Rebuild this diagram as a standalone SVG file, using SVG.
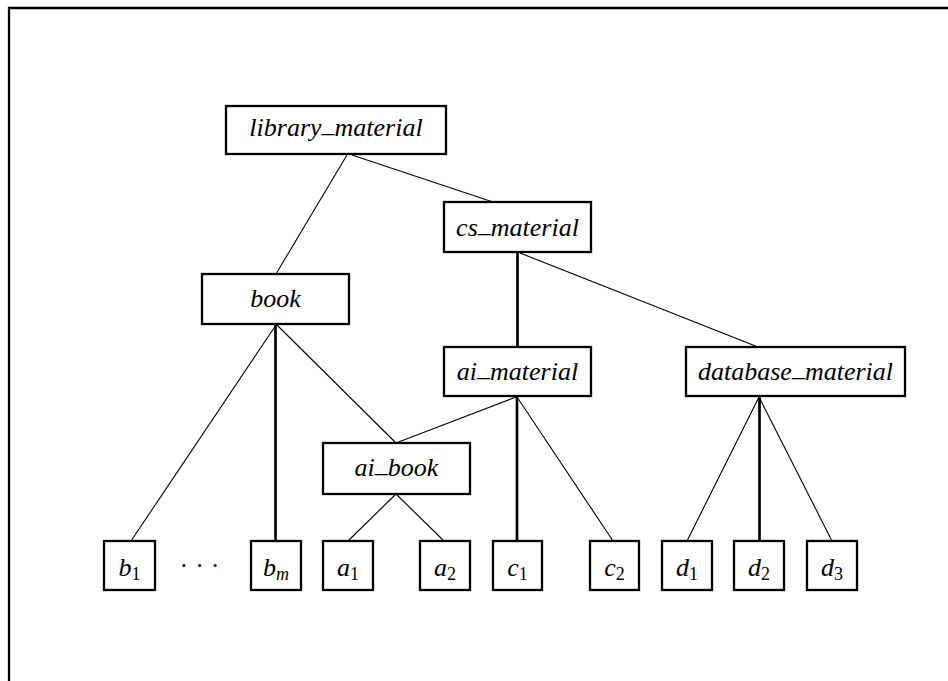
<svg xmlns="http://www.w3.org/2000/svg" width="948" height="681" viewBox="0 0 948 681">
<style>
.box{fill:#fff;stroke:#000;stroke-width:2.3}
text{font-family:'Liberation Serif','Times New Roman','DejaVu Serif',serif}
.lbl{font-style:italic;font-size:26px;text-anchor:middle;fill:#000}
.sub{font-style:normal;font-size:18px}
.subi{font-style:italic;font-size:18px}
.thin{stroke:#000;stroke-width:1.1;fill:none}
.thick{stroke:#000;stroke-width:2.7;fill:none}
.frame{stroke:#000;stroke-width:2.3;fill:none}
</style>
<rect width="948" height="681" fill="#fff"/>
<path class="frame" d="M9,681 V8 H948"/>
<g id="connectors">
<line class="thin" x1="347" y1="155" x2="276" y2="274"/>
<line class="thin" x1="352" y1="155" x2="493" y2="202"/>
<line class="thick" x1="517.5" y1="252" x2="517.5" y2="347"/>
<line class="thin" x1="520" y1="253" x2="758" y2="347"/>
<line class="thin" x1="276" y1="325" x2="131" y2="541"/>
<line class="thick" x1="275.5" y1="325" x2="275.5" y2="541"/>
<line class="thin" x1="277" y1="325" x2="396" y2="443"/>
<line class="thin" x1="516" y1="397" x2="396" y2="443"/>
<line class="thin" x1="396" y1="494" x2="348" y2="541"/>
<line class="thin" x1="396" y1="494" x2="444" y2="541"/>
<line class="thick" x1="517" y1="397" x2="517" y2="541"/>
<line class="thin" x1="517" y1="397" x2="613" y2="541"/>
<line class="thin" x1="759" y1="397" x2="687" y2="541"/>
<line class="thick" x1="759.5" y1="397" x2="759.5" y2="541"/>
<line class="thin" x1="759" y1="397" x2="832" y2="541"/>
</g>
<g font-family="Liberation Serif, Times New Roman, DejaVu Serif, serif">
<g id="library_material"><rect class="box" x="226" y="106" width="220" height="48"/><text class="lbl" x="336" y="136">library<tspan dy="-4">_</tspan><tspan dy="4">material</tspan></text></g>
<g id="cs_material"><rect class="box" x="444" y="202" width="147" height="50"/><text class="lbl" x="517.5" y="236">cs<tspan dy="-4">_</tspan><tspan dy="4">material</tspan></text></g>
<g id="book"><rect class="box" x="202" y="274" width="147" height="50"/><text class="lbl" x="275.5" y="307">book</text></g>
<g id="ai_material"><rect class="box" x="444" y="347" width="147" height="49"/><text class="lbl" x="517.5" y="380">ai<tspan dy="-4">_</tspan><tspan dy="4">material</tspan></text></g>
<g id="database_material"><rect class="box" x="686" y="347" width="219" height="49"/><text class="lbl" x="795.5" y="380">database<tspan dy="-4">_</tspan><tspan dy="4">material</tspan></text></g>
<g id="ai_book"><rect class="box" x="323" y="443" width="147" height="51"/><text class="lbl" x="396.5" y="476">ai<tspan dy="-4">_</tspan><tspan dy="4">book</tspan></text></g>
<g id="b1"><rect class="box" x="104" y="541" width="51" height="49"/><text class="lbl" x="129.5" y="576">b<tspan class="sub" dy="4">1</tspan></text></g>
<g id="dots"><text class="lbl" x="203" y="574" style="font-style:normal;letter-spacing:7px">···</text></g>
<g id="bm"><rect class="box" x="251" y="541" width="50" height="49"/><text class="lbl" x="276" y="576">b<tspan class="subi" dy="4">m</tspan></text></g>
<g id="a1"><rect class="box" x="323" y="541" width="50" height="49"/><text class="lbl" x="348" y="576">a<tspan class="sub" dy="4">1</tspan></text></g>
<g id="a2"><rect class="box" x="420" y="541" width="50" height="49"/><text class="lbl" x="445" y="576">a<tspan class="sub" dy="4">2</tspan></text></g>
<g id="c1"><rect class="box" x="493" y="541" width="49" height="49"/><text class="lbl" x="517.5" y="576">c<tspan class="sub" dy="4">1</tspan></text></g>
<g id="c2"><rect class="box" x="590" y="541" width="49" height="49"/><text class="lbl" x="614.5" y="576">c<tspan class="sub" dy="4">2</tspan></text></g>
<g id="d1"><rect class="box" x="662" y="541" width="50" height="49"/><text class="lbl" x="687" y="576">d<tspan class="sub" dy="4">1</tspan></text></g>
<g id="d2"><rect class="box" x="734" y="541" width="50" height="49"/><text class="lbl" x="759" y="576">d<tspan class="sub" dy="4">2</tspan></text></g>
<g id="d3"><rect class="box" x="807" y="541" width="50" height="49"/><text class="lbl" x="832" y="576">d<tspan class="sub" dy="4">3</tspan></text></g>
</g>
</svg>
